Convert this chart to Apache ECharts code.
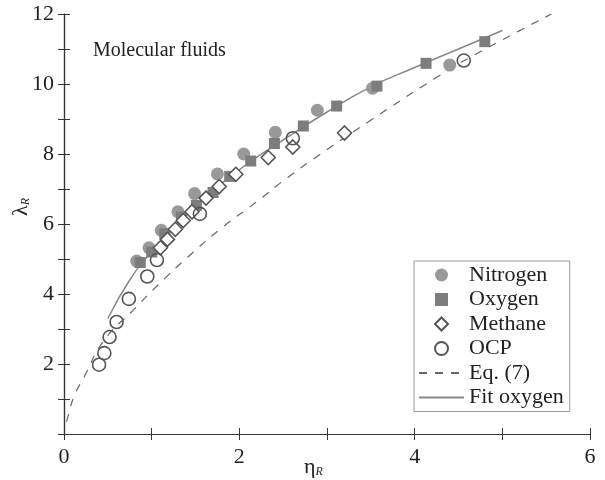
<!DOCTYPE html>
<html>
<head>
    <meta charset="utf-8">
    <title>Molecular fluids</title>
    <script src="https://cdn.jsdelivr.net/npm/echarts@6/dist/echarts.min.js"></script>
    <style>
        html, body { margin: 0; padding: 0; background: #fff; }
        #chart { width: 605px; height: 480px; }
    </style>
</head>
<body>
<div id="chart"></div>
<script>
    // 数据 (eta_R, lambda_R)
    var nitrogen = [[0.83, 4.94], [0.97, 5.32], [1.11, 5.82], [1.30, 6.35], [1.49, 6.87], [1.75, 7.43],
        [2.05, 8.0], [2.41, 8.62], [2.89, 9.25], [3.52, 9.88], [4.40, 10.54]];
    var oxygen = [[0.87, 4.9], [1.0, 5.2], [1.15, 5.72], [1.34, 6.2], [1.51, 6.53], [1.70, 6.9], [1.89, 7.36],
        [2.13, 7.8], [2.40, 8.3], [2.73, 8.8], [3.11, 9.37], [3.57, 9.94], [4.13, 10.59], [4.80, 11.21]];
    var methane = [[1.10, 5.32], [1.18, 5.56], [1.27, 5.85], [1.36, 6.1], [1.46, 6.35], [1.62, 6.74],
        [1.77, 7.07], [1.96, 7.42], [2.33, 7.9], [2.61, 8.2], [3.20, 8.6]];
    var ocp = [[0.40, 1.98], [0.46, 2.31], [0.52, 2.77], [0.60, 3.2], [0.74, 3.86], [0.95, 4.5],
        [1.06, 4.97], [1.55, 6.29], [2.61, 8.45], [4.56, 10.67]];
    // Eq. (7) 虚线, 点
    var eq7 = [[0.03, 0.35], [0.05, 0.54], [0.12, 1.11], [0.23, 1.63], [0.45, 2.65], [0.79, 3.54],
        [1.09, 4.3], [1.41, 5.05], [1.81, 5.91], [2.19, 6.62], [2.53, 7.29], [2.91, 7.97], [3.49, 8.95],
        [4.25, 10.19], [4.63, 10.76], [5.56, 12.0]];
    // 氧气拟合线
    var fitOxygen = [[0.5, 3.3], [0.75, 4.4], [1.0, 5.2], [1.5, 6.5], [2.0, 7.55], [2.5, 8.4], [3.0, 9.2],
        [3.5, 9.92], [4.0, 10.47], [4.5, 11.0], [5.0, 11.53]];
    var xTicks = [0, 2, 4, 6];
    var yTicks = [2, 4, 6, 8, 10, 12];

    var serif = '"Liberation Serif", "DejaVu Serif", serif';
    var myChart = echarts.init(document.getElementById('chart'));

    // 图例里用 path 图标, 这样方块和菱形不会被拉宽
    var squareIcon = 'path://M0,0L10,0L10,10L0,10Z';
    var diamondIcon = 'path://M5,0L10,5L5,10L0,5Z';

    function axisBase(extra) {
        var a = {
            type: 'value',
            interval: 1,
            axisLine: {show: true, lineStyle: {color: '#333', width: 1.2}},
            axisTick: {show: true, inside: true, length: 6, lineStyle: {color: '#333'}},
            splitLine: {show: false},
            axisLabel: {show: false}
        };
        for (var k in extra) a[k] = extra[k];
        return a;
    }

    var subRich = {
        a: {fontFamily: serif, fontSize: 22, fill: '#222'},
        b: {fontFamily: serif, fontSize: 12, fontStyle: 'italic', fill: '#222', padding: [10, 0, 0, 0]}
    };

    var option = {
        animation: false,
        backgroundColor: '#fff',
        grid: {left: 64, right: 15, top: 14, bottom: 46},
        title: {
            text: 'Molecular fluids',
            left: 88, top: 36,
            textStyle: {fontFamily: serif, fontSize: 20, fontWeight: 'normal', color: '#222'}
        },
        legend: {
            orient: 'vertical',
            left: 414, top: 261,
            padding: [3, 6, 3, 4],
            itemGap: 2.5,
            itemWidth: 45,
            itemHeight: 13,
            symbolKeepAspect: true,
            backgroundColor: '#fff',
            borderColor: '#999',
            borderWidth: 1,
            textStyle: {fontFamily: serif, fontSize: 22, color: '#222'},
            data: [
                {name: 'Nitrogen'},
                {name: 'Oxygen', icon: squareIcon},
                {name: 'Methane', icon: diamondIcon},
                {name: 'OCP'},
                {name: 'Eq. (7)'},
                {name: 'Fit oxygen'}
            ]
        },
        xAxis: [
            axisBase({
                min: 0, max: 6, position: 'bottom',
                axisLabel: {
                    show: true, margin: 12,
                    fontFamily: serif, fontSize: 22, color: '#222',
                    formatter: function (v) { return xTicks.indexOf(v) >= 0 ? String(v) : ''; }
                }
            }),
            axisBase({min: 0, max: 6, position: 'top'})
        ],
        yAxis: [
            axisBase({
                min: 0, max: 12, position: 'left',
                axisLabel: {
                    show: true, margin: 10,
                    fontFamily: serif, fontSize: 22, color: '#222',
                    formatter: function (v) { return yTicks.indexOf(v) >= 0 ? String(v) : ''; }
                }
            }),
            axisBase({min: 0, max: 12, position: 'right'})
        ],
        graphic: [
            {
                type: 'text', left: 304, top: 456,
                style: {text: '{a|η}{b|R}', rich: subRich}
            },
            {
                type: 'text', x: 10, y: 216, rotation: Math.PI / 2,
                style: {text: '{a|λ}{b|R}', rich: subRich}
            }
        ],
        series: [
            {
                name: 'Eq. (7)', type: 'line', data: eq7, smooth: true, showSymbol: false, symbolSize: 0,
                lineStyle: {color: '#666', width: 1.2, type: [8, 8]}, itemStyle: {color: '#666', opacity: 0}, z: 1
            },
            {
                name: 'Fit oxygen', type: 'line', data: fitOxygen, smooth: true, showSymbol: false, symbolSize: 0,
                lineStyle: {color: '#888', width: 1.5}, itemStyle: {color: '#888', opacity: 0}, z: 1
            },
            {
                name: 'Nitrogen', type: 'scatter', data: nitrogen, symbol: 'circle', symbolSize: 13,
                itemStyle: {color: '#999', opacity: 1}, z: 2
            },
            {
                name: 'Oxygen', type: 'scatter', data: oxygen, symbol: 'rect', symbolSize: 11,
                itemStyle: {color: '#7d7d7d', opacity: 1}, z: 3
            },
            {
                name: 'Methane', type: 'scatter', data: methane, symbol: 'diamond', symbolSize: 14,
                itemStyle: {color: '#fff', borderColor: '#555', borderWidth: 1.6, opacity: 1}, z: 4
            },
            {
                name: 'OCP', type: 'scatter', data: ocp, symbol: 'circle', symbolSize: 13,
                itemStyle: {color: 'rgba(255,255,255,0)', borderColor: '#555', borderWidth: 1.6, opacity: 1}, z: 5
            }
        ]
    };
    myChart.setOption(option);
</script>
</body>
</html>
